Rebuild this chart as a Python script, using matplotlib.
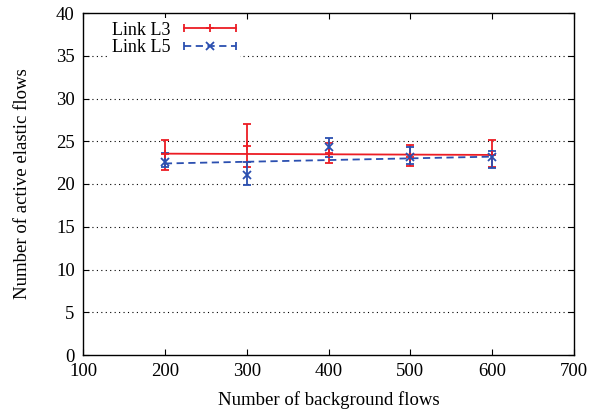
import matplotlib
matplotlib.use("Agg")
import matplotlib.pyplot as plt
from matplotlib.lines import Line2D
from matplotlib.legend_handler import HandlerBase
import numpy as np

# ---- data ----
x = [200, 300, 400, 500, 600]
l3_mean = [23.5, 24.5, 23.6, 23.2, 23.4]
l3_low = [21.65, 21.95, 22.45, 22.15, 21.95]
l3_high = [25.2, 27.0, 24.8, 24.6, 25.1]
l5_mean = [22.6, 21.1, 24.3, 23.2, 23.1]
l5_low = [21.95, 19.9, 23.2, 22.3, 21.85]
l5_high = [23.6, 22.55, 25.4, 24.3, 23.9]
fit_x = [200, 600]
l3_fit = [23.55, 23.4]
l5_fit = [22.4, 23.2]
labels = ["Link L3", "Link L5"]
xticks = [100, 200, 300, 400, 500, 600, 700]
yticks = [0, 5, 10, 15, 20, 25, 30, 35, 40]

RED = "#ec1c24"
BLUE = "#2b4fb0"

plt.rcParams["font.family"] = ["Liberation Serif", "DejaVu Serif"]
plt.rcParams["font.size"] = 13.5

fig = plt.figure(figsize=(5.89, 4.17), dpi=100)
ax = fig.add_axes([83 / 589, 1 - 355 / 417, (574 - 83) / 589, (355 - 13) / 417])

for yv in yticks[1:-1]:
    ax.axhline(yv, color="black", lw=0.8, ls=(0, (1, 3)), zorder=0)

def draw(mean, low, high, fit, color, marker, ls):
    m = np.array(mean)
    yerr = [m - np.array(low), np.array(high) - m]
    ax.errorbar(x, mean, yerr=yerr, fmt="none", ecolor=color, elinewidth=1.3,
                capsize=2.8, capthick=1.3, zorder=3)
    ax.plot(x, mean, ls="none", marker=marker, color=color, ms=5.5, mew=1.3, zorder=4)
    ax.plot(fit_x, fit, color=color, lw=1.3, ls=ls, zorder=2)

draw(l3_mean, l3_low, l3_high, l3_fit, RED, "+", "-")
draw(l5_mean, l5_low, l5_high, l5_fit, BLUE, "x", (0, (4, 2.5)))


class CapHandler(HandlerBase):
    def __init__(self, color, marker, ls):
        super().__init__()
        self.color, self.marker, self.ls = color, marker, ls

    def create_artists(self, legend, orig_handle, xdescent, ydescent, width,
                       height, fontsize, trans):
        y = height / 2 - ydescent
        x0, x1 = -xdescent, width - xdescent
        line = Line2D([x0, x1], [y, y], color=self.color, lw=1.3, ls=self.ls)
        mk = Line2D([(x0 + x1) / 2], [y], ls="none", marker=self.marker,
                    color=self.color, ms=5.5, mew=1.3)
        caps = Line2D([x0, x1], [y, y], ls="none", marker="|", color=self.color,
                      ms=6, mew=1.3)
        for a in (line, mk, caps):
            a.set_transform(trans)
        return [line, mk, caps]


h1 = Line2D([], [], color=RED)
h2 = Line2D([], [], color=BLUE)
leg = ax.legend([h1, h2], labels, loc="upper left", bbox_to_anchor=(0.033, 1.012),
                markerfirst=False, frameon=True, fancybox=False, framealpha=1,
                edgecolor="none", facecolor="white", handlelength=2.9,
                handletextpad=0.75, labelspacing=0.02, borderpad=0.2,
                fontsize=13,
                handler_map={h1: CapHandler(RED, "+", "-"),
                             h2: CapHandler(BLUE, "x", (0, (4, 2.5)))})
leg.set_zorder(5)

ax.set_xlim(100, 700)
ax.set_ylim(0, 40)
ax.set_xticks(xticks)
ax.set_yticks(yticks)
ax.tick_params(direction="in", length=4.5, width=0.8, top=True, right=True,
               labelsize=13.5)
ax.tick_params(axis="x", pad=6)
ax.tick_params(axis="y", pad=6)
for s in ax.spines.values():
    s.set_linewidth(1.0)
ax.set_xlabel("Number of background flows", fontsize=13.5, labelpad=8)
ax.set_ylabel("Number of active elastic flows", fontsize=13.5, labelpad=18)

fig.savefig("out.png", dpi=100)
